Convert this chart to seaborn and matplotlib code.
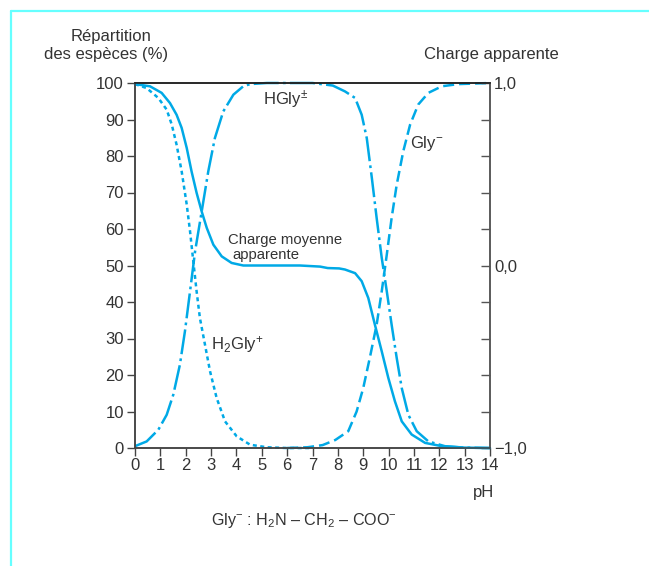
import numpy as np
import pandas as pd
import matplotlib
matplotlib.use("Agg")
import matplotlib.pyplot as plt
import seaborn as sns
from matplotlib.lines import Line2D

# --- species distribution of glycine vs pH (percent) ---
ph_h2gly = [0, 0.46, 0.92, 1.25, 1.45, 1.64, 1.84, 2.04, 2.17, 2.30, 2.43, 2.56, 2.76,
            2.96, 3.22, 3.55, 4.01, 4.54, 5.2, 6.0, 6.9]
h2gly = [99.7, 98.6, 95.9, 92.7, 88.6, 83.1, 75.8, 66.7, 59.4, 51.1, 42.9, 35.6, 28.3,
         21.0, 13.7, 7.3, 3.2, 0.9, 0.2, 0.0, 0.0]

ph_hgly = [0, 0.46, 0.92, 1.25, 1.51, 1.77, 1.97, 2.17, 2.37, 2.63, 2.89, 3.15, 3.48, 3.88,
           4.27, 4.54, 5.2, 6.0, 7.0, 7.8, 8.28, 8.68, 8.94, 9.14, 9.34, 9.53, 9.73, 9.93,
           10.12, 10.32, 10.52, 10.78, 11.11, 11.57, 12.22, 13.0, 14.0]
hgly = [0.5, 1.8, 5.0, 9.1, 14.6, 22.8, 32.0, 42.9, 53.9, 64.8, 75.8, 84.9, 92.2, 96.8,
        99.1, 99.7, 100, 100, 100, 99.3, 97.7, 95.9, 91.3, 84.9, 74.0, 63.0, 52.1, 42.9,
        33.8, 24.7, 16.4, 9.1, 4.6, 1.8, 0.5, 0.1, 0.0]

ph_gly = [6.0, 6.8, 7.4, 7.9, 8.41, 8.74, 9.0, 9.26, 9.53, 9.73, 9.93, 10.12, 10.32, 10.58,
          10.85, 11.17, 11.57, 12.1, 12.75, 14.0]
gly = [0.0, 0.2, 0.8, 2.2, 4.6, 10.0, 16.4, 24.7, 33.8, 42.9, 53.0, 63.0, 72.1, 81.3,
       88.6, 94.1, 97.3, 99.1, 99.7, 100.0]

# --- mean apparent charge (right axis, -1..1) ---
ph_charge = [0, 0.59, 1.05, 1.38, 1.64, 1.84, 2.04, 2.23, 2.43, 2.63, 2.83, 3.09, 3.42,
             3.81, 4.27, 4.54, 5.5, 6.5, 7.3, 7.6, 8.05, 8.28, 8.68, 8.94, 9.20, 9.46,
             9.73, 9.99, 10.25, 10.52, 10.91, 11.44, 12.1, 13.0, 14.0]
charge = [0.994, 0.982, 0.946, 0.890, 0.826, 0.754, 0.644, 0.516, 0.398, 0.296, 0.206,
          0.114, 0.050, 0.014, 0.0, 0.0, 0.0, 0.0, -0.006, -0.014, -0.016, -0.022, -0.042,
          -0.086, -0.178, -0.324, -0.470, -0.616, -0.744, -0.854, -0.926, -0.972, -0.990,
          -0.998, -1.0]

x_ticks = list(range(0, 15))
y_ticks = list(range(0, 101, 10))
right_ticks = [-1.0, -0.8, -0.6, -0.4, -0.2, 0.0, 0.2, 0.4, 0.6, 0.8, 1.0]
right_labels = ["\u22121,0", "", "", "", "", "0,0", "", "", "", "", "1,0"]

sns.set_theme(style="white")
plt.rcParams["font.family"] = ["Liberation Sans", "DejaVu Sans"]
plt.rcParams["mathtext.fontset"] = "custom"
plt.rcParams["mathtext.rm"] = "Liberation Sans"
plt.rcParams["mathtext.it"] = "Liberation Sans:italic"
plt.rcParams["mathtext.bf"] = "Liberation Sans:bold"

CYAN = "#00a9e6"
TEXT = "#333333"
W, H = 649, 566
FS = 12

fig = plt.figure(figsize=(W / 100, H / 100), dpi=100)
fig.patch.set_facecolor("white")

def fx(px):
    return px / W

def fy(py):
    return 1 - py / H

ax = fig.add_axes([fx(135), fy(448), fx(490) - fx(135), fy(83) - fy(448)])
ax.set_facecolor("white")

lw = 1.8
df1 = pd.DataFrame({"pH": ph_h2gly, "v": h2gly})
df2 = pd.DataFrame({"pH": ph_hgly, "v": hgly})
df3 = pd.DataFrame({"pH": ph_gly, "v": gly})

sns.lineplot(data=df1, x="pH", y="v", ax=ax, color=CYAN, lw=lw, sort=False,
             linestyle=(0, (1.6, 1.4)))
sns.lineplot(data=df2, x="pH", y="v", ax=ax, color=CYAN, lw=lw, sort=False,
             linestyle=(0, (10.0, 1.7, 1.1, 1.7)))
sns.lineplot(data=df3, x="pH", y="v", ax=ax, color=CYAN, lw=lw, sort=False,
             linestyle=(0, (4.4, 2.0)))
for ln in ax.lines:
    ln.set_clip_on(False)

ax.set_xlim(0, 14)
ax.set_ylim(0, 100)
ax.set_xticks(x_ticks)
ax.set_yticks(y_ticks)
ax.set_xlabel("")
ax.set_ylabel("")
ax.tick_params(axis="both", direction="out", length=5.5, width=1.0, color="#444444",
               labelcolor=TEXT, labelsize=FS, left=True, bottom=True, pad=2.0)
ax.tick_params(axis="y", pad=2.5)

ax2 = ax.twinx()
df4 = pd.DataFrame({"pH": ph_charge, "c": charge})
sns.lineplot(data=df4, x="pH", y="c", ax=ax2, color=CYAN, lw=lw, sort=False)
for ln in ax2.lines:
    ln.set_clip_on(False)
ax2.set_ylim(-1, 1)
ax2.set_yticks(right_ticks)
ax2.set_yticklabels(right_labels)
ax2.set_ylabel("")
ax2.tick_params(axis="y", direction="in", length=6.5, width=1.0, color="#555555",
                labelcolor=TEXT, labelsize=FS, pad=3, right=True)

for a in (ax, ax2):
    for side, sp in a.spines.items():
        sp.set_visible(True)
        sp.set_linewidth(1.1)
    a.spines["left"].set_color("#444444")
    a.spines["bottom"].set_color("#444444")
    a.spines["top"].set_color("#222222")
    a.spines["right"].set_color("#555555")

# curve labels
ax.text(5.05, 95.5, "HGly$^{\\pm}$", color=TEXT, fontsize=FS, va="center", ha="left")
ax.text(10.85, 83.5, "Gly$^{-}$", color=TEXT, fontsize=FS, va="center", ha="left")
ax.text(3.68, 57.0, "Charge moyenne", color=TEXT, fontsize=10.7, va="center", ha="left")
ax.text(3.83, 53.0, "apparente", color=TEXT, fontsize=10.7, va="center", ha="left")
ax.text(2.98, 28.3, "H$_2$Gly$^{+}$", color=TEXT, fontsize=FS, va="center", ha="left")

# axis titles and footnote
fig.text(fx(111), fy(37), "Répartition", color=TEXT, fontsize=FS, ha="center", va="center")
fig.text(fx(106), fy(55), "des espèces (%)", color=TEXT, fontsize=FS, ha="center", va="center")
fig.text(fx(491), fy(55), "Charge apparente", color=TEXT, fontsize=FS, ha="center", va="center")
fig.text(fx(494), fy(492), "pH", color=TEXT, fontsize=FS, ha="right", va="center")
fig.text(fx(304), fy(521), "Gly$^{-}$ : H$_2$N \u2013 CH$_2$ \u2013 COO$^{-}$", color=TEXT,
         fontsize=11.6, ha="center", va="center")

# light cyan page frame
fig.add_artist(Line2D([fx(11), 1.0], [fy(11), fy(11)], color="#66ffff", lw=1.6))
fig.add_artist(Line2D([fx(11), fx(11)], [fy(11), 0.0], color="#66ffff", lw=1.6))

fig.savefig("out.png", dpi=100, facecolor="white")
